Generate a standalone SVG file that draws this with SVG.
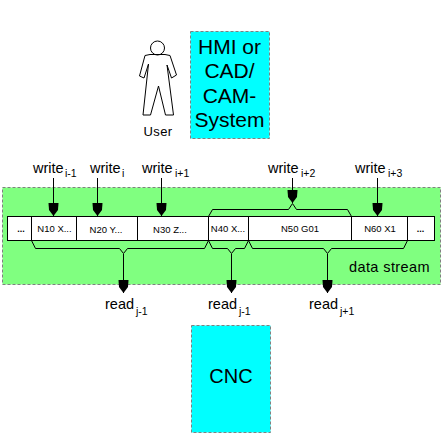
<svg xmlns="http://www.w3.org/2000/svg" width="442" height="442" viewBox="0 0 442 442">
<defs>
<marker id="ah" markerUnits="userSpaceOnUse" markerWidth="14" markerHeight="12" refX="13" refY="5" orient="auto"><path d="M0 0L7 0.500L9 2L13 5L9 8L7 9.500L0 10Z" fill="#000"/></marker>
</defs>
<style>
text{font-family:"Liberation Sans",Arial,sans-serif;fill:#000}
.box{stroke:#808080;stroke-width:1;stroke-dasharray:3 2}
.ln{fill:none;stroke:#000;stroke-width:1}
.arr{fill:none;stroke:#000;stroke-width:1;marker-end:url(#ah)}
.big{font-size:21px;text-anchor:middle}
.lab{font-size:14.500px}
.sub{font-size:10.500px}
.cell{font-size:9.500px;text-anchor:middle}
.dots{font-size:9px;font-weight:bold;text-anchor:middle}
</style>
<g id="data-stream">
<rect class="box" x="2.500" y="187.500" width="438" height="97" fill="#80ff80"/>
<text x="349" y="272" font-size="14.500" letter-spacing="0.400">data stream</text>
</g>
<g id="user">
<circle class="ln" cx="157.500" cy="48" r="7" fill="#fff"/>
<path class="ln" fill="#fff" d="M150 54.500L145 55.500L139.500 76L144 78L148.500 64L143 115L150.500 115L158.500 86L165.500 115L173.500 115L167 65L171.500 78L176.500 75L170 55.500L165 54.500Z"/>
<text x="158" y="136" font-size="13" text-anchor="middle" letter-spacing="0.400">User</text>
</g>
<g id="hmi">
<rect class="box" x="190.500" y="31.500" width="79" height="107" fill="#00ffff"/>
<text class="big" x="229.500" y="54">HMI or</text>
<text class="big" x="229.500" y="78">CAD/</text>
<text class="big" x="229.500" y="103">CAM-</text>
<text class="big" x="229.500" y="127">System</text>
</g>
<g id="cnc">
<rect class="box" x="191.500" y="325.500" width="79" height="107" fill="#00ffff"/>
<text class="big" x="231" y="383" style="font-size:20px">CNC</text>
</g>
<g id="stream">
<rect x="7.500" y="216.500" width="427" height="24" fill="#fff" stroke="#000"/>
<path class="ln" d="M31.500 216.500V240.500M76.500 216.500V240.500M137.500 216.500V240.500M208.500 216.500V240.500M248.500 216.500V240.500M351.500 216.500V240.500M407.500 216.500V240.500"/>
<text class="dots" x="21" y="232">...</text>
<text class="cell" x="54.500" y="232">N10 X...</text>
<text class="cell" x="106" y="233">N20 Y...</text>
<text class="cell" x="170" y="233">N30 Z...</text>
<text class="cell" x="228" y="232">N40 X...</text>
<text class="cell" x="300" y="232">N50 G01</text>
<text class="cell" x="380" y="232">N60 X1</text>
<text class="dots" x="420.500" y="232">...</text>
</g>
<g id="connectors">
<path class="ln" d="M31.500 240.500L35.500 248.500H119.500L123.500 253.500L127.500 248.500H204.500L208.500 240.500"/>
<path class="ln" d="M208.500 240.500L212.500 248.500H227.500L231.500 253.500L235.500 248.500H244.500L248.500 240.500"/>
<path class="ln" d="M248.500 240.500L252.500 248.500H323.500L327.500 253.500L331.500 248.500H403.500L407.500 240.500"/>
<path class="ln" d="M208.500 216.500L212.500 209.500H288.500L292.500 203.500L296.500 209.500H347.500L351.500 216.500"/>
<path class="arr" d="M53.500 178V216"/>
<path class="arr" d="M97.500 178V216"/>
<path class="arr" d="M161.500 178V216"/>
<path class="arr" d="M292.500 178V203"/>
<path class="arr" d="M377.500 178V216"/>
<path class="arr" d="M123.500 254V293"/>
<path class="arr" d="M231.500 254V293"/>
<path class="arr" d="M327.500 254V293"/>
</g>
<g id="labels">
<text class="lab" x="33" y="173">write</text><text class="sub" x="65" y="177">i-1</text>
<text class="lab" x="90" y="173">write</text><text class="sub" x="122" y="177">i</text>
<text class="lab" x="142" y="173">write</text><text class="sub" x="175" y="177">i+1</text>
<text class="lab" x="268" y="173">write</text><text class="sub" x="301" y="177">i+2</text>
<text class="lab" x="355" y="173">write</text><text class="sub" x="388" y="177">i+3</text>
<text class="lab" x="105" y="309">read</text><text class="sub" x="136" y="315">j-1</text>
<text class="lab" x="208" y="309">read</text><text class="sub" x="239" y="315">j-1</text>
<text class="lab" x="309" y="309">read</text><text class="sub" x="340" y="315">j+1</text>
</g>
</svg>
